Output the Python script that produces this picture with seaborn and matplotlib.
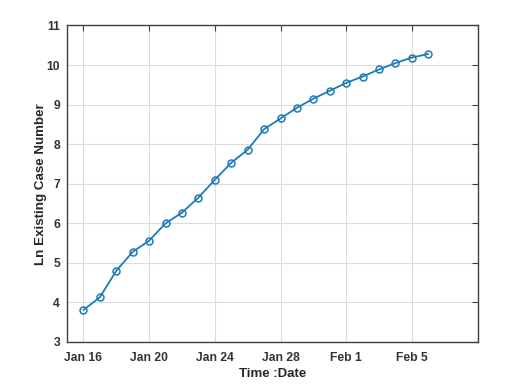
import matplotlib
matplotlib.use("Agg")
import matplotlib.pyplot as plt
import seaborn as sns
import pandas as pd

dates = pd.date_range("2020-01-16", "2020-02-06", freq="D")
ln_cases = [3.81, 4.13, 4.80, 5.28, 5.56, 6.00, 6.27, 6.65, 7.10, 7.53, 7.86,
            8.38, 8.65, 8.92, 9.15, 9.35, 9.55, 9.71, 9.89, 10.05, 10.19, 10.28]
tick_dates = pd.to_datetime(["2020-01-16", "2020-01-20", "2020-01-24",
                             "2020-01-28", "2020-02-01", "2020-02-05"])
tick_labels = ["Jan 16", "Jan 20", "Jan 24", "Jan 28", "Feb 1", "Feb 5"]
y_ticks = [3, 4, 5, 6, 7, 8, 9, 10, 11]

df = pd.DataFrame({"date": dates, "ln": ln_cases})

sns.set_theme(style="white")
plt.rcParams["font.family"] = ["Liberation Sans", "DejaVu Sans"]
plt.rcParams["font.weight"] = "bold"

fig = plt.figure(figsize=(5.13, 3.84), dpi=100)
ax = fig.add_axes([0.1306, 0.1094, 0.8004, 0.8242])

color = "#1f7bb6"
sns.lineplot(data=df, x="date", y="ln", ax=ax, color=color, linewidth=1.3,
             marker="o", markersize=5, markerfacecolor="none",
             markeredgecolor=color, markeredgewidth=1.1)

ax.set_xlim(pd.Timestamp("2020-01-15"), pd.Timestamp("2020-02-09"))
ax.set_ylim(3, 11)
ax.set_xticks(tick_dates)
ax.set_xticklabels(tick_labels)
ax.set_yticks(y_ticks)
ax.set_yticklabels([str(v) for v in y_ticks])

ax.grid(True, color="#dcdcdc", linewidth=0.8)
ax.set_axisbelow(True)
for s in ax.spines.values():
    s.set_color("#404040")
    s.set_linewidth(1.0)
    s.set_visible(True)

ax.tick_params(axis="both", which="both", direction="in", length=4, width=0.8,
               color="#404040", top=True, right=True, labelsize=8.7,
               labelcolor="#333333")
ax.tick_params(axis="x", pad=7)
ax.tick_params(axis="y", pad=5)
for lab in ax.get_xticklabels() + ax.get_yticklabels():
    lab.set_fontweight("bold")

ax.set_xlabel("Time :Date", fontsize=9.5, fontweight="bold", color="#262626", labelpad=3)
ax.set_ylabel("Ln Existing Case Number", fontsize=9.6, fontweight="bold", color="#262626", labelpad=0)

fig.savefig("out.png", dpi=100, facecolor="white")
